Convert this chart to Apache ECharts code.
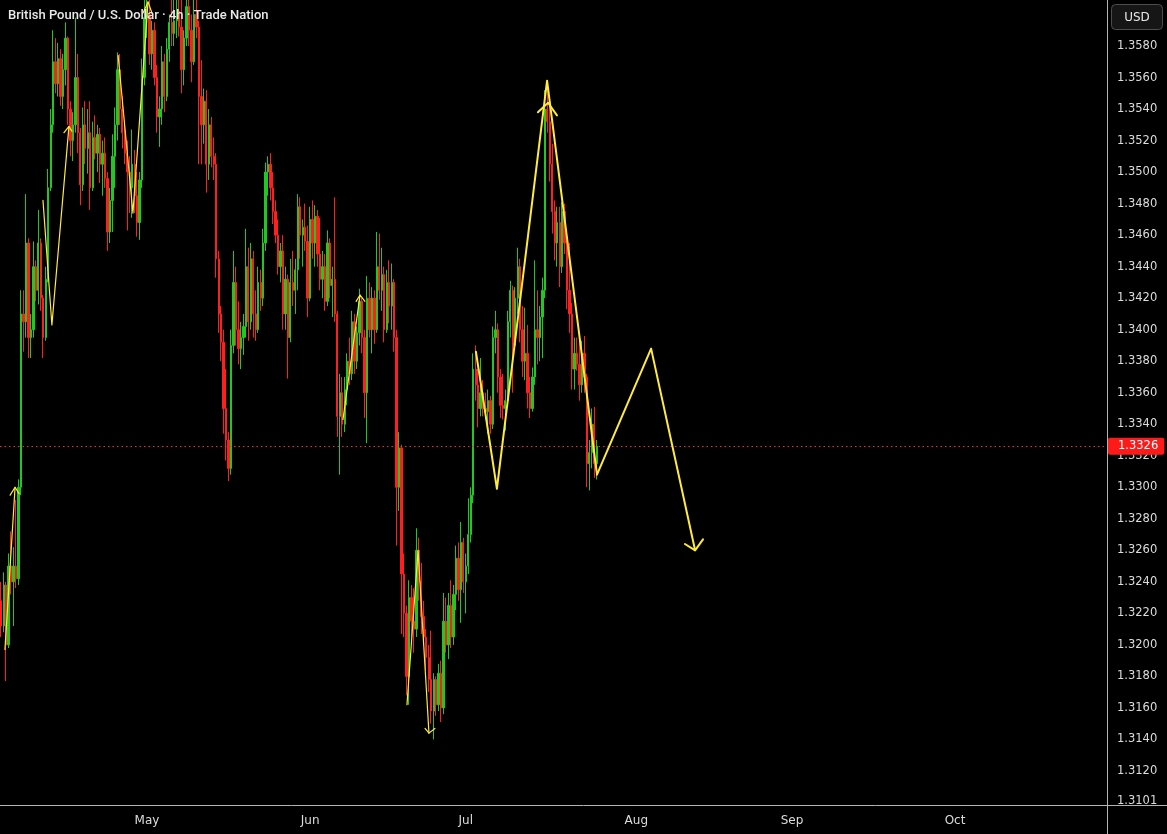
<!DOCTYPE html>
<html>
<head>
<meta charset="utf-8">
<script src="https://cdn.jsdelivr.net/npm/echarts@6/dist/echarts.min.js"></script>
<style>
html,body{margin:0;padding:0;background:#000;}
#c{width:1167px;height:834px;}
</style>
</head>
<body>
<div id="c"></div>
<script>
// ---- Chart text ----
const titleText = 'British Pound / U.S. Dollar · 4h · Trade Nation';
const currencyText = 'USD';
const monthNames = ['Jan','Feb','Mar','Apr','May','Jun','Jul','Aug','Sep','Oct','Nov','Dec'];

// ---- Time axis (8h slots on trading days) ----
const axisStart = '2025-04-03T08:00:00Z';
const axisEnd = '2025-10-29T08:00:00Z';

// ---- Price axis ----
const priceMin = 1.30984;
const priceMax = 1.36092;
const priceTicks = [1.3101,1.3120,1.3140,1.3160,1.3180,1.3200,1.3220,1.3240,1.3260,1.3280,1.3300,1.3320,1.3340,1.3360,1.3380,1.3400,1.3420,1.3440,1.3460,1.3480,1.3500,1.3520,1.3540,1.3560,1.3580];

// ---- Candle values ----
const opens = [
1.3228,1.3212,1.3238,1.3200,1.3250,1.3240,1.3250,1.3242,1.3300,1.3410,
1.3405,1.3455,1.3395,1.3400,1.3440,1.3425,1.3455,1.3420,1.3395,1.3432,
1.3490,1.3530,1.3570,1.3556,1.3572,1.3548,1.3565,1.3585,1.3540,1.3520,
1.3530,1.3560,1.3525,1.3492,1.3530,1.3515,1.3525,1.3490,1.3522,1.3512,
1.3524,1.3505,1.3512,1.3496,1.3462,1.3482,1.3510,1.3530,1.3565,1.3540,
1.3525,1.3512,1.3500,1.3490,1.3505,1.3485,1.3468,1.3495,1.3560,1.3598,
1.3600,1.3575,1.3590,1.3560,1.3535,1.3540,1.3570,1.3548,1.3578,1.3595,
1.3588,1.3596,1.3602,1.3592,1.3565,1.3585,1.3605,1.3590,1.3570,1.3600,
1.3592,1.3548,1.3530,1.3545,1.3505,1.3530,1.3510,1.3505,1.3445,1.3410,
1.3392,1.3350,1.3330,1.3312,1.3390,1.3430,1.3400,1.3388,1.3395,1.3402,
1.3440,1.3405,1.3445,1.3410,1.3400,1.3430,1.3420,1.3455,1.3500,1.3505,
1.3490,1.3475,1.3460,1.3440,1.3450,1.3410,1.3432,1.3395,1.3430,1.3425,
1.3438,1.3478,1.3460,1.3465,1.3456,1.3420,1.3470,1.3455,1.3472,1.3448,
1.3432,1.3440,1.3418,1.3455,1.3428,1.3432,1.3410,1.3345,1.3360,1.3340,
1.3362,1.3380,1.3372,1.3405,1.3380,1.3398,1.3418,1.3395,1.3360,1.3420,
1.3400,1.3420,1.3400,1.3440,1.3425,1.3435,1.3400,1.3430,1.3415,1.3430,
1.3395,1.3300,1.3325,1.3245,1.3220,1.3180,1.3230,1.3215,1.3210,1.3260,
1.3240,1.3218,1.3205,1.3192,1.3178,1.3158,1.3178,1.3162,1.3182,1.3160,
1.3215,1.3200,1.3225,1.3205,1.3232,1.3255,1.3235,1.3265,1.3240,1.3250,
1.3270,1.3295,1.3375,1.3365,1.3350,1.3360,1.3350,1.3348,1.3355,1.3340,
1.3395,1.3400,1.3370,1.3352,1.3350,1.3355,1.3405,1.3425,1.3390,1.3420,
1.3440,1.3400,1.3380,1.3385,1.3360,1.3350,1.3370,1.3400,1.3395,1.3408,
1.3425,1.3540,1.3532,1.3505,1.3475,1.3455,1.3468,1.3440,1.3475,1.3455,
1.3425,1.3410,1.3375,1.3385,1.3378,1.3365,1.3385,1.3370,1.3315,1.3322,
1.3340,1.3315];
const highs = [
1.3240,1.3246,1.3240,1.3258,1.3272,1.3262,1.3292,1.3305,1.3425,1.3425,
1.3486,1.3458,1.3410,1.3456,1.3444,1.3476,1.3458,1.3422,1.3440,1.3502,
1.3540,1.3590,1.3585,1.3582,1.3578,1.3575,1.3595,1.3586,1.3545,1.3538,
1.3598,1.3575,1.3528,1.3541,1.3545,1.3540,1.3545,1.3532,1.3536,1.3530,
1.3528,1.3520,1.3522,1.3500,1.3490,1.3524,1.3541,1.3576,1.3575,1.3548,
1.3532,1.3520,1.3510,1.3527,1.3514,1.3500,1.3500,1.3572,1.3612,1.3612,
1.3610,1.3596,1.3595,1.3568,1.3548,1.3580,1.3575,1.3585,1.3600,1.3612,
1.3612,1.3610,1.3613,1.3610,1.3590,1.3614,1.3614,1.3600,1.3612,1.3614,
1.3596,1.3571,1.3553,1.3552,1.3540,1.3535,1.3522,1.3512,1.3450,1.3415,
1.3400,1.3375,1.3335,1.3400,1.3450,1.3440,1.3418,1.3405,1.3410,1.3464,
1.3452,1.3455,1.3450,1.3425,1.3440,1.3438,1.3464,1.3506,1.3510,1.3512,
1.3500,1.3482,1.3470,1.3455,1.3460,1.3440,1.3435,1.3445,1.3450,1.3445,
1.3486,1.3484,1.3470,1.3480,1.3466,1.3478,1.3482,1.3479,1.3476,1.3471,
1.3450,1.3448,1.3463,1.3458,1.3440,1.3484,1.3412,1.3372,1.3370,1.3370,
1.3385,1.3395,1.3412,1.3410,1.3402,1.3426,1.3420,1.3400,1.3434,1.3430,
1.3427,1.3425,1.3462,1.3461,1.3452,1.3440,1.3438,1.3444,1.3442,1.3432,
1.3400,1.3335,1.3327,1.3258,1.3225,1.3241,1.3238,1.3236,1.3274,1.3268,
1.3252,1.3228,1.3210,1.3200,1.3209,1.3182,1.3180,1.3188,1.3190,1.3233,
1.3230,1.3233,1.3241,1.3238,1.3263,1.3265,1.3278,1.3268,1.3258,1.3293,
1.3300,1.3385,1.3390,1.3375,1.3382,1.3368,1.3360,1.3362,1.3358,1.3402,
1.3412,1.3404,1.3375,1.3372,1.3362,1.3412,1.3431,1.3428,1.3427,1.3452,
1.3445,1.3415,1.3414,1.3403,1.3370,1.3376,1.3444,1.3425,1.3415,1.3433,
1.3552,1.3557,1.3546,1.3518,1.3482,1.3478,1.3478,1.3481,1.3480,1.3457,
1.3455,1.3417,1.3395,1.3395,1.3393,1.3393,1.3396,1.3372,1.3330,1.3350,
1.3351,1.3330];
const lows = [
1.3205,1.3208,1.3177,1.3198,1.3232,1.3212,1.3236,1.3238,1.3295,1.3386,
1.3395,1.3382,1.3382,1.3395,1.3418,1.3416,1.3412,1.3382,1.3393,1.3430,
1.3488,1.3525,1.3550,1.3548,1.3542,1.3540,1.3555,1.3530,1.3510,1.3507,
1.3525,1.3512,1.3479,1.3488,1.3505,1.3499,1.3476,1.3488,1.3508,1.3500,
1.3493,1.3485,1.3490,1.3450,1.3455,1.3462,1.3490,1.3520,1.3530,1.3515,
1.3505,1.3463,1.3474,1.3471,1.3474,1.3459,1.3457,1.3490,1.3555,1.3585,
1.3568,1.3565,1.3555,1.3525,1.3516,1.3530,1.3538,1.3545,1.3570,1.3580,
1.3580,1.3585,1.3586,1.3550,1.3555,1.3580,1.3580,1.3557,1.3568,1.3585,
1.3505,1.3505,1.3518,1.3487,1.3495,1.3503,1.3495,1.3433,1.3398,1.3380,
1.3334,1.3317,1.3304,1.3308,1.3385,1.3390,1.3378,1.3375,1.3384,1.3395,
1.3393,1.3400,1.3395,1.3393,1.3398,1.3412,1.3415,1.3450,1.3485,1.3482,
1.3467,1.3455,1.3435,1.3430,1.3400,1.3400,1.3369,1.3392,1.3415,1.3410,
1.3425,1.3445,1.3440,1.3450,1.3408,1.3418,1.3445,1.3440,1.3440,1.3425,
1.3420,1.3412,1.3415,1.3420,1.3408,1.3405,1.3332,1.3308,1.3332,1.3335,
1.3352,1.3365,1.3368,1.3372,1.3375,1.3390,1.3385,1.3344,1.3328,1.3395,
1.3385,1.3391,1.3398,1.3419,1.3412,1.3392,1.3398,1.3404,1.3400,1.3386,
1.3263,1.3285,1.3207,1.3205,1.3168,1.3162,1.3205,1.3195,1.3205,1.3228,
1.3207,1.3200,1.3184,1.3170,1.3150,1.3140,1.3155,1.3158,1.3151,1.3156,
1.3195,1.3191,1.3198,1.3200,1.3222,1.3228,1.3214,1.3233,1.3220,1.3245,
1.3265,1.3290,1.3355,1.3338,1.3345,1.3345,1.3343,1.3334,1.3334,1.3337,
1.3385,1.3360,1.3344,1.3343,1.3336,1.3352,1.3395,1.3360,1.3388,1.3410,
1.3392,1.3370,1.3368,1.3350,1.3344,1.3348,1.3365,1.3378,1.3380,1.3382,
1.3420,1.3525,1.3494,1.3461,1.3444,1.3440,1.3427,1.3436,1.3448,1.3413,
1.3398,1.3362,1.3362,1.3374,1.3355,1.3360,1.3360,1.3300,1.3298,1.3312,
1.3306,1.3305];
const closes = [
1.3212,1.3238,1.3200,1.3250,1.3240,1.3250,1.3242,1.3300,1.3410,1.3405,
1.3455,1.3395,1.3400,1.3440,1.3425,1.3455,1.3420,1.3395,1.3432,1.3490,
1.3530,1.3570,1.3556,1.3572,1.3548,1.3565,1.3585,1.3540,1.3520,1.3530,
1.3560,1.3525,1.3492,1.3530,1.3515,1.3525,1.3490,1.3522,1.3512,1.3524,
1.3505,1.3512,1.3496,1.3462,1.3482,1.3510,1.3530,1.3565,1.3540,1.3525,
1.3512,1.3500,1.3490,1.3505,1.3485,1.3468,1.3495,1.3560,1.3598,1.3600,
1.3575,1.3590,1.3560,1.3535,1.3540,1.3570,1.3548,1.3578,1.3595,1.3588,
1.3596,1.3602,1.3592,1.3565,1.3585,1.3605,1.3590,1.3570,1.3600,1.3592,
1.3548,1.3530,1.3545,1.3505,1.3530,1.3510,1.3505,1.3445,1.3410,1.3392,
1.3350,1.3330,1.3312,1.3390,1.3430,1.3400,1.3388,1.3395,1.3402,1.3440,
1.3405,1.3445,1.3410,1.3400,1.3430,1.3420,1.3455,1.3500,1.3505,1.3490,
1.3475,1.3460,1.3440,1.3450,1.3410,1.3432,1.3395,1.3430,1.3425,1.3438,
1.3478,1.3460,1.3465,1.3456,1.3420,1.3470,1.3455,1.3472,1.3448,1.3432,
1.3440,1.3418,1.3455,1.3428,1.3432,1.3410,1.3345,1.3360,1.3340,1.3362,
1.3380,1.3372,1.3405,1.3380,1.3398,1.3418,1.3395,1.3360,1.3420,1.3400,
1.3420,1.3400,1.3440,1.3425,1.3435,1.3400,1.3430,1.3415,1.3430,1.3395,
1.3300,1.3325,1.3245,1.3220,1.3180,1.3230,1.3215,1.3210,1.3260,1.3240,
1.3218,1.3205,1.3192,1.3178,1.3158,1.3178,1.3162,1.3182,1.3160,1.3215,
1.3200,1.3225,1.3205,1.3232,1.3255,1.3235,1.3265,1.3240,1.3250,1.3270,
1.3295,1.3375,1.3365,1.3350,1.3360,1.3350,1.3348,1.3355,1.3340,1.3395,
1.3400,1.3370,1.3352,1.3350,1.3355,1.3405,1.3425,1.3390,1.3420,1.3440,
1.3400,1.3380,1.3385,1.3360,1.3350,1.3370,1.3400,1.3395,1.3408,1.3425,
1.3540,1.3532,1.3505,1.3475,1.3455,1.3468,1.3440,1.3475,1.3455,1.3425,
1.3410,1.3375,1.3385,1.3378,1.3365,1.3385,1.3370,1.3315,1.3322,1.3340,
1.3315,1.3326];

// ---- Hand-drawn annotations: [slot index, price] ----
const drawWaveA = [[1.5,1.3197],[5.6,1.3300]];
const drawArrowA = [[3.6,1.3295],[5.6,1.3300],[7.2,1.3296]];
const drawWaveB = [[16.9,1.3482],[20.5,1.3403],[27.4,1.3529]];
const drawArrowB = [[25.4,1.3525],[27.4,1.3529],[28.6,1.3526]];
const drawWaveC = [[47.3,1.3574],[53.3,1.3474],[59.4,1.3608]];
const drawArrowC = [[57.4,1.3601],[59.4,1.3608],[61.0,1.3601]];
const drawWaveD = [[138.3,1.3343],[145.2,1.3422]];
const drawArrowD = [[143.6,1.3418],[145.2,1.3422],[147.2,1.3418]];
const drawWaveE = [[164.2,1.3162],[168.7,1.3260],[173.1,1.3144]];
const drawArrowE = [[171.5,1.3147],[173.1,1.3144],[175.5,1.3147]];
const drawWaveF = [[192.1,1.3386],[200.6,1.3299],[220.9,1.3558],[241.1,1.3308],[263.0,1.3388],[280.8,1.3260]];
const drawArrowF = [[276.7,1.3264],[280.8,1.3260],[284.0,1.3267]];
const drawArrowPeak = [[217.2,1.3538],[221.3,1.3544],[224.9,1.3536]];

// ---- Build slots ----
function buildSlots(){
  const out = [];
  let t = Date.parse(axisStart);
  const end = Date.parse(axisEnd);
  while (t <= end){
    const d = new Date(t);
    const wd = d.getUTCDay();
    if (wd >= 1 && wd <= 5) out.push(d.toISOString().slice(0,13));
    t += 8*3600*1000;
  }
  return out;
}
const slots = buildSlots();
const candleData = opens.map((o,i) => [o, closes[i], lows[i], highs[i]]);
const lastClose = closes[closes.length-1];

// ---- Layout / style ----
const W = 1167, H = 834;
const gridRight = 60, gridBottom = 29;
const plotRight = W - gridRight, plotBottom = H - gridBottom;
const UP = '#22c822', DOWN = '#ff1f1f', YEL = '#ffeb3b', TXT = '#dcdcdc', AXL = '#b4b4b4';

function drawLine(data, width){
  return {type:'line', xAxisIndex:1, yAxisIndex:0, data:data, symbol:'none', silent:true,
    lineStyle:{color:YEL, width:width, cap:'round', join:'round'}, z:5};
}

const chart = echarts.init(document.getElementById('c'), null, {renderer:'canvas'});
chart.setOption({
  backgroundColor:'#000',
  animation:false,
  title:{text:titleText, left:8, top:9, padding:0,
    textStyle:{color:'#e8e8e8', fontSize:13, fontWeight:500, fontFamily:'Roboto'}},
  grid:{left:0, right:gridRight, top:0, bottom:gridBottom},
  xAxis:[
    {type:'category', data:slots, boundaryGap:true,
     axisLine:{show:false}, axisTick:{show:false}, splitLine:{show:false},
     axisLabel:{
       interval:(idx, val) => idx > 0 && val.slice(5,7) !== slots[idx-1].slice(5,7),
       formatter:(val) => monthNames[parseInt(val.slice(5,7),10)-1],
       color:TXT, fontSize:12, fontFamily:'DejaVu Sans', margin:10
     }},
    {type:'value', min:-0.5, max:slots.length-0.5, show:false}
  ],
  yAxis:{type:'value', position:'right', min:priceMin, max:priceMax, scale:true,
    axisLine:{show:false}, axisTick:{show:false}, splitLine:{show:false},
    axisLabel:{customValues:priceTicks, formatter:(v) => Number(v).toFixed(4),
      color:TXT, fontSize:11.5, fontFamily:'DejaVu Sans', margin:10}},
  series:[
    {type:'candlestick', data:candleData, barWidth:1.8, silent:true,
     itemStyle:{color:UP, color0:DOWN, borderColor:UP, borderColor0:DOWN, borderWidth:1},
     markLine:{silent:true, precision:4, symbol:['none','none'], data:[{yAxis:lastClose}],
       lineStyle:{color:'#ff2b2b', width:1, type:[1.5,3]},
       label:{show:true, position:'end', distance:1, formatter:(p) => Number(p.value).toFixed(4),
         color:'#fff', backgroundColor:'#ff1a1a', padding:[3,6,2,10], borderRadius:2,
         fontSize:11.5, fontFamily:'DejaVu Sans'},
       emphasis:{disabled:true}}},
    drawLine(drawWaveA,1.2), drawLine(drawArrowA,1.2),
    drawLine(drawWaveB,1.2), drawLine(drawArrowB,1.2),
    drawLine(drawWaveC,1.2), drawLine(drawArrowC,1.2),
    drawLine(drawWaveD,1.2), drawLine(drawArrowD,1.2),
    drawLine(drawWaveE,1.2), drawLine(drawArrowE,1.2),
    drawLine(drawWaveF,2), drawLine(drawArrowF,2), drawLine(drawArrowPeak,2)
  ],
  graphic:[
    {type:'line', silent:true, z:10, shape:{x1:0, y1:plotBottom+0.5, x2:W, y2:plotBottom+0.5}, style:{stroke:AXL, lineWidth:1}},
    {type:'line', silent:true, z:10, shape:{x1:plotRight+0.5, y1:0, x2:plotRight+0.5, y2:H}, style:{stroke:AXL, lineWidth:1}},
    {type:'rect', silent:true, z:10, shape:{x:plotRight+4.5, y:4.5, width:51, height:25, r:4}, style:{fill:'#161616', stroke:'#4d4d4d', lineWidth:1}},
    {type:'text', silent:true, z:11, style:{text:currencyText, x:plotRight+30, y:17.5, align:'center', verticalAlign:'middle', fill:'#e8e8e8', font:'12px "DejaVu Sans"'}}
  ]
});
</script>
</body>
</html>
